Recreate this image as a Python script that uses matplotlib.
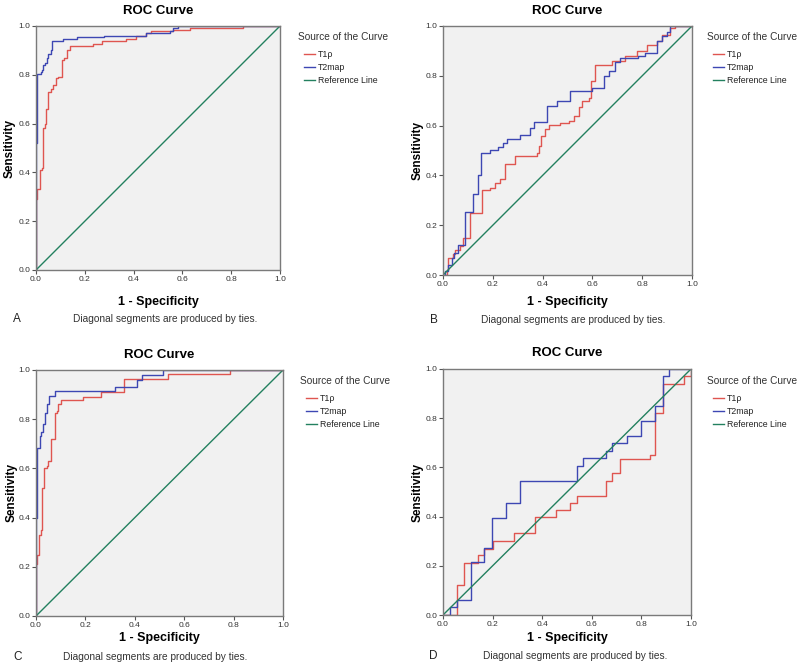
import matplotlib
matplotlib.use('Agg')
import matplotlib.pyplot as plt

plt.rcParams['font.family'] = ['Liberation Sans', 'DejaVu Sans']

# ROC vertices (x = 1 - specificity, y = sensitivity), drawn as post steps
a_t1_x = [0, 0, 0.005, 0.015, 0.025, 0.03, 0.035, 0.04, 0.05, 0.06, 0.07, 0.08, 0.09, 0.105, 0.115, 0.125, 0.14, 0.235, 0.27, 0.37, 0.41, 0.45, 0.47, 0.56, 0.63, 0.85, 1.0]
a_t1_y = [0, 0.29, 0.33, 0.41, 0.42, 0.58, 0.60, 0.66, 0.73, 0.74, 0.76, 0.785, 0.79, 0.86, 0.87, 0.90, 0.92, 0.928, 0.938, 0.948, 0.958, 0.97, 0.98, 0.985, 0.99, 1.0, 1.0]
a_t2_x = [0, 0, 0.005, 0.02, 0.025, 0.03, 0.037, 0.045, 0.05, 0.06, 0.067, 0.11, 0.17, 0.28, 0.45, 0.55, 0.56, 0.58, 1.0]
a_t2_y = [0, 0.52, 0.805, 0.81, 0.82, 0.84, 0.85, 0.87, 0.885, 0.90, 0.937, 0.945, 0.953, 0.96, 0.97, 0.98, 0.99, 1.0, 1.0]

b_t1_x = [0, 0.015, 0.02, 0.04, 0.05, 0.07, 0.08, 0.11, 0.155, 0.19, 0.21, 0.23, 0.247, 0.29, 0.377, 0.384, 0.394, 0.41, 0.424, 0.47, 0.505, 0.525, 0.545, 0.56, 0.585, 0.594, 0.61, 0.68, 0.73, 0.78, 0.82, 0.86, 0.88, 0.91, 0.93, 1.0]
b_t1_y = [0, 0.02, 0.07, 0.085, 0.10, 0.115, 0.148, 0.25, 0.34, 0.35, 0.37, 0.385, 0.446, 0.476, 0.49, 0.52, 0.56, 0.585, 0.603, 0.61, 0.62, 0.64, 0.675, 0.70, 0.71, 0.78, 0.842, 0.86, 0.88, 0.90, 0.925, 0.94, 0.965, 0.99, 1.0, 1.0]
b_t2_x = [0, 0.01, 0.02, 0.035, 0.045, 0.06, 0.09, 0.12, 0.14, 0.154, 0.19, 0.22, 0.24, 0.257, 0.31, 0.35, 0.364, 0.418, 0.458, 0.51, 0.60, 0.645, 0.665, 0.69, 0.71, 0.785, 0.81, 0.86, 0.88, 0.90, 0.91, 1.0]
b_t2_y = [0, 0.015, 0.04, 0.07, 0.09, 0.12, 0.253, 0.325, 0.40, 0.49, 0.503, 0.516, 0.53, 0.545, 0.563, 0.59, 0.616, 0.68, 0.70, 0.737, 0.75, 0.80, 0.82, 0.857, 0.87, 0.88, 0.89, 0.94, 0.96, 0.977, 1.0, 1.0]

c_t1_x = [0, 0, 0.005, 0.012, 0.019, 0.026, 0.034, 0.043, 0.05, 0.06, 0.077, 0.085, 0.09, 0.1, 0.19, 0.265, 0.355, 0.535, 0.785, 1.0]
c_t1_y = [0, 0.21, 0.25, 0.33, 0.35, 0.52, 0.60, 0.61, 0.63, 0.72, 0.826, 0.835, 0.86, 0.878, 0.89, 0.91, 0.965, 0.982, 1.0, 1.0]
c_t2_x = [0, 0, 0.005, 0.016, 0.022, 0.027, 0.036, 0.043, 0.054, 0.077, 0.32, 0.41, 0.43, 0.515, 1.0]
c_t2_y = [0, 0.40, 0.684, 0.73, 0.75, 0.78, 0.826, 0.86, 0.894, 0.915, 0.93, 0.96, 0.98, 1.0, 1.0]

d_t1_x = [0, 0.055, 0.085, 0.14, 0.166, 0.2, 0.285, 0.372, 0.455, 0.513, 0.54, 0.656, 0.683, 0.714, 0.835, 0.855, 0.889, 0.97, 1.0]
d_t1_y = [0, 0.122, 0.21, 0.244, 0.27, 0.302, 0.333, 0.397, 0.427, 0.455, 0.485, 0.545, 0.576, 0.634, 0.65, 0.82, 0.94, 0.97, 1.0]
d_t2_x = [0, 0.028, 0.055, 0.113, 0.166, 0.196, 0.253, 0.31, 0.54, 0.566, 0.656, 0.683, 0.74, 0.797, 0.855, 0.889, 0.913, 1.0]
d_t2_y = [0, 0.034, 0.061, 0.215, 0.274, 0.396, 0.457, 0.546, 0.607, 0.638, 0.668, 0.698, 0.726, 0.79, 0.85, 0.97, 1.0, 1.0]

panel_letters = ['A', 'B', 'C', 'D']
ticks = [0.0, 0.2, 0.4, 0.6, 0.8, 1.0]
tick_labels = ['0.0', '0.2', '0.4', '0.6', '0.8', '1.0']

RED = '#df5550'
BLUE = '#3d47b3'
GREEN = '#23805f'

W, H = 800, 668
fig = plt.figure(figsize=(8, 6.68), dpi=100)

# axes boxes in pixels: left, top, right, bottom
boxes = [(36, 26, 280, 270), (443, 26, 692, 275), (36, 370, 283, 616), (443, 369, 691, 615)]
series = [(a_t1_x, a_t1_y, a_t2_x, a_t2_y), (b_t1_x, b_t1_y, b_t2_x, b_t2_y),
          (c_t1_x, c_t1_y, c_t2_x, c_t2_y), (d_t1_x, d_t1_y, d_t2_x, d_t2_y)]
xlabel_y = [302, 302, 638, 638]
ylabel_x = [10, 418, 12, 418]
foot_y = [319, 320, 657, 656]
foot_x = [165, 573, 155, 575]
letter_x = [13, 430, 13, 429]
legend_x = [298, 707, 300, 707]
legend_y = [37, 37, 381, 381]

for i, (l, t, r, b) in enumerate(boxes):
  aw, ah = r - l, b - t
  ax = fig.add_axes([l / W, 1 - b / H, aw / W, ah / H])
  ax.set_facecolor('#f1f1f1')
  t1x, t1y, t2x, t2y = series[i]
  ax.plot(t1x, t1y, drawstyle='steps-post', color=RED, lw=1.0, label='T1\u03c1')
  ax.plot(t2x, t2y, drawstyle='steps-post', color=BLUE, lw=1.0, label='T2map')
  ax.plot([0, 1], [0, 1], color=GREEN, lw=1.0, label='Reference Line')
  ax.set_xlim(0, 1)
  ax.set_ylim(0, 1)
  ax.set_xticks(ticks)
  ax.set_yticks(ticks)
  ax.set_xticklabels(tick_labels)
  ax.set_yticklabels(tick_labels)
  ax.tick_params(direction='out', length=3, width=0.8, color='#555555', labelsize=6,
                 labelcolor='#333333', pad=1.2)
  for s in ax.spines.values():
    s.set_color('#7a7a7a')
    s.set_linewidth(1.0)
  ax.set_title('ROC Curve', fontsize=9.5, fontweight='bold', pad=9)
  ax.set_xlabel('1 - Specificity', fontsize=9, fontweight='bold', va='center')
  ax.xaxis.set_label_coords(0.5, -(xlabel_y[i] - b) / ah)
  ax.set_ylabel('Sensitivity', fontsize=8.5, fontweight='bold', va='center')
  ax.yaxis.set_label_coords((ylabel_x[i] - l) / aw, 0.5)

  lx = (legend_x[i] - l) / aw
  ly = (b - legend_y[i]) / ah
  ax.text(lx, ly, 'Source of the Curve', transform=ax.transAxes, fontsize=7.3,
          ha='left', va='center', color='#333333')
  leg = ax.legend(loc='upper left', bbox_to_anchor=(lx + 6 / aw, ly - 13 / ah), frameon=False,
                  fontsize=6.3, handlelength=1.25, handletextpad=0.35, labelspacing=0.45,
                  borderpad=0, borderaxespad=0)
  for txt in leg.get_texts():
    txt.set_color('#222222')
  fig.text(foot_x[i] / W, 1 - foot_y[i] / H, 'Diagonal segments are produced by ties.',
           fontsize=7.3, ha='center', va='center', color='#333333')
  fig.text(letter_x[i] / W, 1 - foot_y[i] / H, panel_letters[i], fontsize=8.5,
           ha='left', va='center', color='#222222')

fig.savefig('out.png', dpi=100, facecolor='white')
